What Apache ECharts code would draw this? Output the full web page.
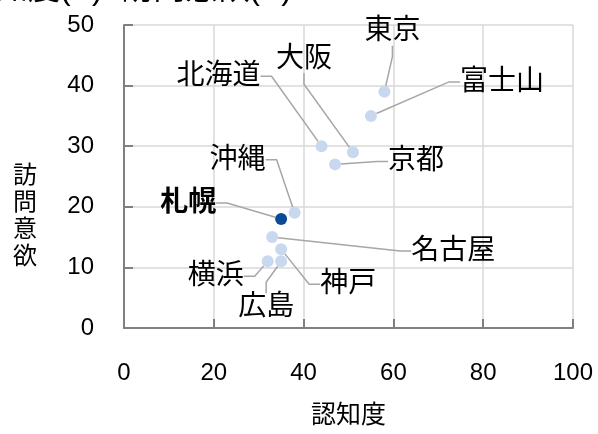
<!DOCTYPE html>
<html>
<head>
<meta charset="utf-8">
<script src="https://cdn.jsdelivr.net/npm/echarts@6/dist/echarts.min.js"></script>
<style>
html,body{margin:0;padding:0;background:#fff;}
#chart{width:598px;height:434px;}
</style>
</head>
<body>
<div id="chart"></div>
<script>
// ---- data ----
const titleText = '認知度(X)×訪問意欲(Y)';
const xAxisName = '認知度';
const yAxisName = '訪問意欲';
const cities = ['東京', '富士山', '大阪', '北海道', '京都', '沖縄', '札幌', '名古屋', '神戸', '横浜', '広島'];
const awareness = [58, 55, 51, 44, 47, 38, 35, 33, 35, 32, 35];
const visitIntent = [39, 35, 29, 30, 27, 19, 18, 15, 13, 11, 11];
const highlightCity = '札幌';
const xTicks = [0, 20, 40, 60, 80, 100];
const yTicks = [0, 10, 20, 30, 40, 50];

// ---- label placement (styling, pixel offsets from each point) ----
const labelOffsets = {
  '東京': [8, -60],
  '富士山': [131, -34],
  '大阪': [-49, -93],
  '北海道': [-103, -70],
  '京都': [81, -3],
  '沖縄': [-57, -53],
  '札幌': [-93, -16],
  '名古屋': [181, 14],
  '神戸': [67, 35],
  '横浜': [-52, 15],
  '広島': [-15, 46]
};

const FONT = '"Liberation Sans", "Noto Sans CJK JP", sans-serif';
const lightBlue = '#c8d8ef';
const darkBlue = '#0b4a96';

const data = cities.map((c, i) => {
  const isHi = c === highlightCity;
  return {
    name: c,
    value: [awareness[i], visitIntent[i]],
    itemStyle: { color: isHi ? darkBlue : lightBlue, opacity: 1 },
    z: isHi ? 3 : 2,
    label: isHi ? { fontWeight: 'bold' } : {}
  };
});

const chart = echarts.init(document.getElementById('chart'), null, { renderer: 'canvas' });
chart.setOption({
  animation: false,
  backgroundColor: '#ffffff',
  textStyle: { fontFamily: FONT },
  title: {
    text: titleText,
    left: -36,
    top: -27,
    padding: 0,
    textStyle: { fontFamily: FONT, fontSize: 32, fontWeight: 'normal', color: '#000', lineHeight: 34 }
  },
  grid: { left: 124, right: 25, top: 25, bottom: 100, containLabel: false },
  xAxis: {
    type: 'value',
    min: xTicks[0], max: xTicks[xTicks.length - 1], interval: xTicks[1] - xTicks[0],
    name: xAxisName,
    nameLocation: 'middle',
    nameGap: 76,
    nameTextStyle: { fontFamily: FONT, fontSize: 25, color: '#000' },
    axisLine: { show: true, lineStyle: { color: '#808080', width: 2 } },
    axisTick: { show: true, inside: true, length: 9, lineStyle: { color: '#808080', width: 2 } },
    axisLabel: { fontFamily: FONT, fontSize: 24, color: '#000', margin: 33 },
    splitLine: { show: true, lineStyle: { color: '#d9d9d9', width: 1.5 } }
  },
  yAxis: {
    type: 'value',
    min: yTicks[0], max: yTicks[yTicks.length - 1], interval: yTicks[1] - yTicks[0],
    name: '\n\n\n' + yAxisName.split('').join('\n'),
    nameLocation: 'middle',
    nameRotate: 0,
    nameGap: 87,
    nameTextStyle: { fontFamily: FONT, fontSize: 24, lineHeight: 27, color: '#000' },
    axisLine: { show: true, lineStyle: { color: '#808080', width: 2 } },
    axisTick: { show: true, inside: true, length: 9, lineStyle: { color: '#808080', width: 2 } },
    axisLabel: { fontFamily: FONT, fontSize: 24, color: '#000', margin: 30 },
    splitLine: { show: true, lineStyle: { color: '#d9d9d9', width: 1.5 } }
  },
  series: [{
    type: 'scatter',
    symbol: 'circle',
    symbolSize: 12,
    data: data,
    itemStyle: { opacity: 1 },
    label: {
      show: true,
      position: 'inside',
      formatter: '{b}',
      fontFamily: FONT,
      fontSize: 28,
      color: '#000'
    },
    labelLine: {
      show: true,
      length2: 11,
      lineStyle: { color: '#a6a6a6', width: 1.5 }
    },
    labelLayout: function (params) {
      const name = cities[params.dataIndex];
      const off = labelOffsets[name] || [0, 0];
      return { dx: off[0], dy: off[1] };
    },
    emphasis: { disabled: true }
  }]
});
</script>
</body>
</html>
